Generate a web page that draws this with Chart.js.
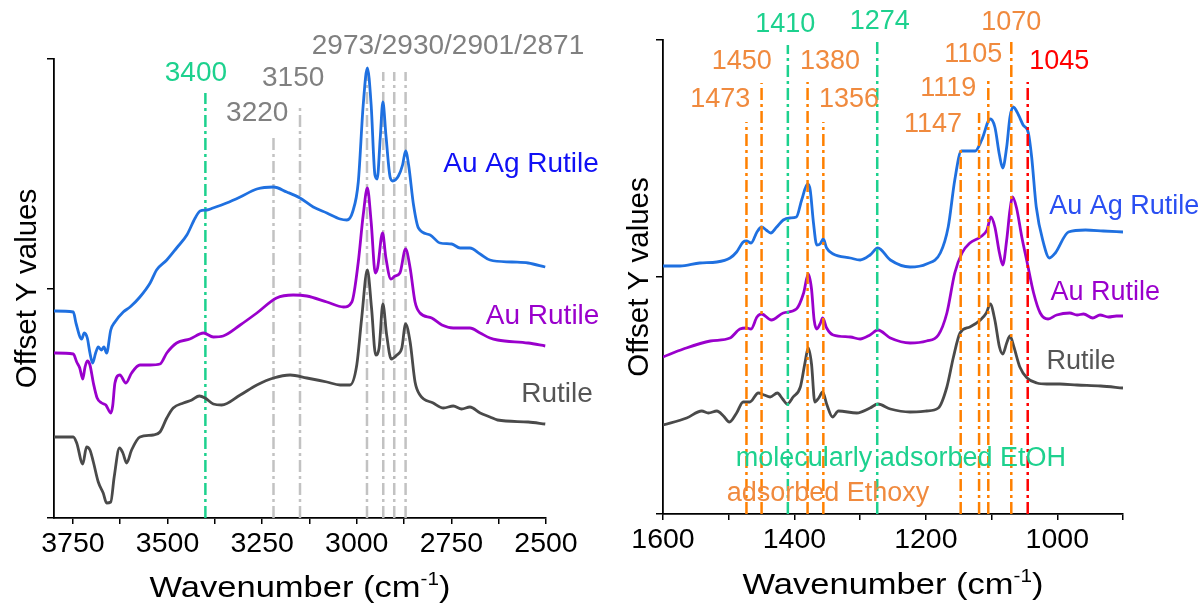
<!DOCTYPE html>
<html><head><meta charset="utf-8">
<script src="https://cdn.jsdelivr.net/npm/chart.js@4.4.1/dist/chart.umd.min.js"></script>
<style>
html,body{margin:0;padding:0;background:#fff;}
#wrap{position:relative;width:1204px;height:604px;overflow:hidden;}
#c1{position:absolute;left:0;top:0;}
#c2{position:absolute;left:600px;top:0;}
</style></head><body>
<div id="wrap"><canvas id="c1" width="600" height="604"></canvas><canvas id="c2" width="604" height="604"></canvas></div>
<script>
// ---------- LEFT PANEL DATA (3800-2500 cm-1) ----------
const leftAuAgX = [3800,3749,3742,3727,3720,3712,3705,3698,3690,3683,3675,3668,3661,3650,3639,3617,3599,3573,3546,3529,3502,3476,3449,3427,3414,3396,3380,3344,3308,3264,3220,3185,3150,3115,3079,3044,3026,3011,2996,2983,2972,2962,2952,2946,2938,2931,2923,2912,2905,2890,2879,2871,2863,2850,2837,2806,2780,2749,2727,2701,2674,2648,2590,2547,2502];
const leftAuAgY = [207,206,195,179,185,180,165,155,165,171,168,171,165,188,196,206,211,221,235,248,258,270,283,300,307,308,310,315,321,329,331,326,320,311,305,299,298,306,336,413,450,413,343,339,380,416,383,341,337,342,353,367,353,313,290,283,275,274,270,270,264,258,256,255,251];

const leftAuX = [3800,3749,3740,3732,3724,3718,3712,3705,3696,3686,3674,3663,3650,3645,3639,3626,3610,3595,3573,3546,3520,3502,3476,3441,3405,3379,3353,3308,3264,3212,3168,3132,3079,3035,3013,2996,2983,2972,2962,2951,2945,2932,2923,2910,2899,2886,2871,2859,2846,2833,2802,2775,2745,2701,2674,2648,2628,2547,2502];
const leftAuY = [165,164,156,150,139,151,157,153,135,120,115,113,105,112,135,143,135,145,153,153,154,165,175,179,185,181,182,193,205,220,223,222,216,211,216,256,303,330,296,245,250,285,260,239,242,245,269,250,216,205,200,193,190,190,185,180,178,175,172];

const leftRutX = [3800,3749,3740,3724,3714,3705,3696,3683,3670,3661,3650,3641,3627,3618,3608,3595,3573,3538,3520,3502,3485,3458,3436,3416,3401,3379,3357,3308,3264,3220,3176,3132,3079,3044,3018,3000,2987,2972,2961,2950,2941,2931,2921,2909,2894,2881,2871,2859,2846,2833,2798,2771,2745,2723,2701,2674,2648,2628,2547,2502];
const leftRutY = [81,81,75,54,71,68,56,36,25,15,16,41,70,65,55,68,81,83,86,100,110,115,118,122,120,114,113,123,133,140,143,140,136,133,133,153,200,248,210,163,170,214,183,159,163,170,194,176,136,123,115,110,112,109,111,105,101,98,96,94];

const leftMarkWn  = [3400,3220,3150,2973,2930,2901,2871];
const leftMarkTop = [425,382,414,446,446,446,446];
const leftMarkKind = ['etoh','gray','gray','gray','gray','gray','gray'];

const leftTickVals = [3750,3625,3500,3375,3250,3125,3000,2875,2750,2625,2500];
const leftTickLabels = [3750,3500,3250,3000,2750,2500];

// ---------- RIGHT PANEL DATA (1600-900 cm-1) ----------
const rightAuAgX = [1600,1574,1544,1518,1498,1488,1478,1473,1466,1457,1450,1443,1436,1427,1417,1407,1397,1389,1380,1376,1371,1366,1361,1356,1351,1341,1315,1300,1285,1273,1254,1224,1199,1178,1166,1156,1146,1138,1125,1115,1102,1095,1088,1083,1077,1072,1067,1059,1052,1044,1039,1032,1021,1012,1003,983,957,930,900];
const rightAuAgY = [248,248,251,252,256,262,272,273,271,282,287,284,281,287,294,296,297,314,330,324,291,269,270,275,266,260,256,254,259,266,254,247,250,261,287,334,363,363,363,374,395,387,359,346,367,397,407,399,389,381,357,307,271,256,261,282,284,283,282];

const rightAuX = [1600,1569,1528,1498,1483,1473,1466,1457,1450,1435,1417,1397,1386,1379,1374,1370,1366,1361,1357,1351,1341,1315,1300,1285,1273,1254,1224,1199,1181,1168,1156,1145,1133,1117,1107,1101,1095,1088,1083,1077,1072,1068,1062,1054,1046,1036,1026,1014,1001,981,970,960,946,935,922,910,900];
const rightAuY = [157,165,173,176,185,186,185,197,200,194,201,205,221,240,225,194,185,190,196,186,179,177,175,179,184,176,171,173,179,201,241,261,271,277,284,297,287,261,249,274,304,317,306,277,252,221,201,195,199,201,199,200,196,199,197,198,198];

const rightRutX = [1600,1564,1541,1531,1518,1508,1499,1488,1478,1468,1455,1446,1437,1426,1418,1411,1402,1391,1384,1379,1374,1369,1363,1357,1351,1342,1333,1305,1285,1273,1254,1224,1199,1181,1168,1158,1148,1133,1117,1108,1102,1095,1088,1083,1077,1072,1066,1057,1046,1031,1016,996,970,934,900];
const rightRutY = [89,96,103,101,103,98,92,101,112,112,121,119,117,121,115,110,117,127,151,166,150,112,116,122,110,97,103,101,106,110,105,102,103,106,127,157,181,187,194,201,210,194,167,160,171,178,167,147,136,131,130,130,129,128,126];

const rightMarkWn  = [1473,1450,1410,1380,1356,1274,1147,1119,1105,1070,1045];
const rightMarkTop = [392,431,469,432,392,472,367,401,437,472,432];
const rightMarkKind = ['ethoxy','ethoxy','etoh','ethoxy','ethoxy','etoh','ethoxy','ethoxy','ethoxy','ethoxy','red'];

const rightTickVals = [1600,1500,1400,1300,1200,1100,1000,900];
const rightTickLabels = [1600,1400,1200,1000];

// ---------- STYLES ----------
const FONT = "'Liberation Sans', Arial, Helvetica, sans-serif";
const C_BLUE = '#1f70e0', C_PURPLE = '#9a00cc', C_GRAY = '#4a4a4a';
const C_GREEN = '#1dd18e', C_ORANGE_LINE = '#ff8000', C_ORANGE_TXT = '#f08a3e', C_RED = '#ff0000';
const C_GRAYLINE = '#c2c2c2', C_GRAYTXT = '#808080';
const markColor = {etoh:C_GREEN, gray:C_GRAYLINE, ethoxy:C_ORANGE_LINE, red:C_RED};

// annotation texts (data coordinates: wavenumber, offset value)
const leftTexts = [
  {t:'3400', wn:3425, v:445, c:C_GREEN, s:28},
  {t:'3150', wn:3168, v:440, c:C_GRAYTXT, s:28},
  {t:'3220', wn:3263, v:405, c:C_GRAYTXT, s:28},
  {t:'2973/2930/2901/2871', wn:2759, v:471.5, c:C_GRAYTXT, s:28},
  {t:'Au Ag Rutile', wn:2566, v:354, c:'#1010f5', s:28},
  {t:'Au Rutile', wn:2509, v:202, c:'#9a00cc', s:28},
  {t:'Rutile', wn:2471, v:124, c:'#555555', s:28}
];
const rightTexts = [
  {t:'1410', wn:1414, v:489, c:C_GREEN, s:27},
  {t:'1274', wn:1270, v:492, c:C_GREEN, s:27},
  {t:'1450', wn:1480, v:452, c:C_ORANGE_TXT, s:27},
  {t:'1380', wn:1346, v:452, c:C_ORANGE_TXT, s:27},
  {t:'1473', wn:1513, v:414, c:C_ORANGE_TXT, s:27},
  {t:'1356', wn:1317, v:414, c:C_ORANGE_TXT, s:27},
  {t:'1070', wn:1070, v:491, c:C_ORANGE_TXT, s:27},
  {t:'1105', wn:1128, v:459, c:C_ORANGE_TXT, s:27},
  {t:'1045', wn:997, v:452, c:C_RED, s:27},
  {t:'1119', wn:1166, v:425, c:C_ORANGE_TXT, s:27},
  {t:'1147', wn:1189, v:389, c:C_ORANGE_TXT, s:27},
  {t:'Au Ag Rutile', wn:898, v:307, c:'#2a4ff2', s:27},
  {t:'Au Rutile', wn:927, v:221, c:'#9a00cc', s:27},
  {t:'Rutile', wn:964, v:152, c:'#555555', s:27},
  {t:'molecularly adsorbed EtOH', wn:1238, v:55, c:C_GREEN, s:27},
  {t:'adsorbed Ethoxy', wn:1503, v:20, c:C_ORANGE_TXT, s:27, align:'left'}
];

function series(xs, ys, color){
  return {data: xs.map((x,i)=>({x:x, y:ys[i]})), borderColor:color, borderWidth:2.8,
          pointRadius:0, fill:false, cubicInterpolationMode:'monotone'};
}
function marks(wns, tops, kinds){
  return wns.map((w,i)=>({data:[{x:w,y:0},{x:w,y:tops[i]}], borderColor:markColor[kinds[i]],
    borderWidth:2.5, borderDash:[12,4,3,4], pointRadius:0, fill:false, tension:0}));
}

function textPlugin(texts, yTitleX, titleBaseline){
  return {
    id:'txt',
    afterDraw(chart){
      const ctx = chart.ctx, xs = chart.scales.x, ys = chart.scales.y, ca = chart.chartArea;
      ctx.save();
      ctx.textBaseline = 'middle';
      texts.forEach(o=>{
        ctx.font = o.s + 'px ' + FONT;
        ctx.fillStyle = o.c;
        ctx.textAlign = o.align || 'center';
        ctx.fillText(o.t, xs.getPixelForValue(o.wn), ys.getPixelForValue(o.v));
      });
      // x title with superscript
      const sx = 1.15, fs = 30, sup = 18;
      ctx.fillStyle = '#000';
      ctx.textAlign = 'left';
      ctx.textBaseline = 'alphabetic';
      ctx.font = fs + 'px ' + FONT;
      const a = 'Wavenumber (cm', c = ')';
      const wa = ctx.measureText(a).width, wc = ctx.measureText(c).width;
      ctx.font = sup + 'px ' + FONT;
      const wb = ctx.measureText('-1').width;
      const total = (wa + wb + wc) * sx;
      const cx = (ca.left + ca.right) / 2;
      ctx.save();
      ctx.translate(cx - total/2, titleBaseline);
      ctx.scale(sx, 1);
      ctx.font = fs + 'px ' + FONT; ctx.fillText(a, 0, 0);
      ctx.font = sup + 'px ' + FONT; ctx.fillText('-1', wa, -12);
      ctx.font = fs + 'px ' + FONT; ctx.fillText(c, wa + wb, 0);
      ctx.restore();
      // y title
      ctx.save();
      ctx.translate(yTitleX, (ca.top + ca.bottom) / 2);
      ctx.rotate(-Math.PI/2);
      ctx.textAlign = 'center';
      ctx.font = '29.5px ' + FONT;
      ctx.fillText('Offset Y values', 0, 0);
      ctx.restore();
      ctx.restore();
    }
  };
}

function makeChart(canvasId, cfg){
  return new Chart(document.getElementById(canvasId), {
    type:'line',
    data:{datasets: cfg.datasets},
    options:{
      responsive:false, animation:false, events:[],
      layout:{padding:cfg.pad},
      plugins:{legend:{display:false}, tooltip:{enabled:false}},
      scales:{
        x:{type:'linear', reverse:true, min:cfg.xmin, max:cfg.xmax,
           afterFit(s){ s.height = cfg.xh; },
           afterBuildTicks(s){ s.ticks = cfg.tickVals.map(v=>({value:v})); },
           ticks:{autoSkip:false, maxRotation:0, minRotation:0, padding:3, color:'#000',
                  font:{family:FONT, size:28.5},
                  callback:(v)=> cfg.tickLabels.includes(v) ? String(v) : ''},
           grid:{drawOnChartArea:false, drawTicks:true, tickLength:6, color:'#000', lineWidth:1.5},
           border:{display:true, color:'#000', width:1.8}},
        y:{type:'linear', min:0, max:cfg.ymax,
           afterFit(s){ s.width = cfg.yw; },
           afterBuildTicks(s){ s.ticks = [{value:0},{value:cfg.ymax/2},{value:cfg.ymax}]; },
           ticks:{callback:()=>'', padding:0},
           grid:{drawOnChartArea:false, drawTicks:true, tickLength:7, color:'#000', lineWidth:1.5},
           border:{display:true, color:'#000', width:1.8}}
      }
    },
    plugins:[textPlugin(cfg.texts, cfg.yTitleX, cfg.titleBaseline)]
  });
}

makeChart('c1', {
  datasets: [
    series(leftAuAgX, leftAuAgY, C_BLUE),
    series(leftAuX, leftAuY, C_PURPLE),
    series(leftRutX, leftRutY, C_GRAY),
    ...marks(leftMarkWn, leftMarkTop, leftMarkKind)
  ],
  pad:{left:0, top:59, right:54, bottom:0}, xh:86, yw:54,
  xmin:2500, xmax:3800, ymax:459,
  tickVals:leftTickVals, tickLabels:leftTickLabels,
  texts:leftTexts, yTitleX:36, titleBaseline:597
});

makeChart('c2', {
  datasets: [
    ...marks(rightMarkWn, rightMarkTop, rightMarkKind),
    series(rightAuAgX, rightAuAgY, C_BLUE),
    series(rightAuX, rightAuY, C_PURPLE),
    series(rightRutX, rightRutY, C_GRAY)
  ],
  pad:{left:0, top:40, right:81, bottom:0}, xh:90, yw:63,
  xmin:900, xmax:1600, ymax:474,
  tickVals:rightTickVals, tickLabels:rightTickLabels,
  texts:rightTexts, yTitleX:48, titleBaseline:594
});
</script>
</body></html>
